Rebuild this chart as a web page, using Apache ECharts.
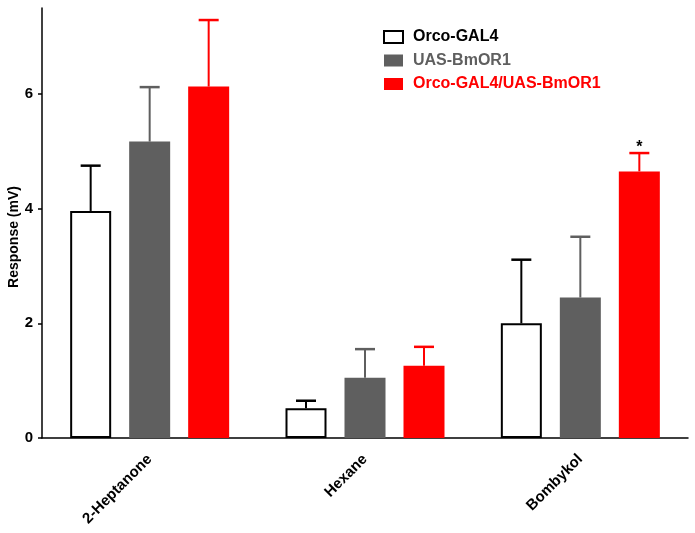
<!DOCTYPE html>
<html>
<head>
<meta charset="utf-8">
<script src="https://cdn.jsdelivr.net/npm/echarts@6/dist/echarts.min.js"></script>
<style>html,body{margin:0;padding:0;background:#fff}#c{width:695px;height:533px}</style>
</head>
<body>
<div id="c"></div>
<script>
const categories = ['2-Heptanone', 'Hexane', 'Bombykol'];
const seriesNames = ['Orco-GAL4', 'UAS-BmOR1', 'Orco-GAL4/UAS-BmOR1'];
const orcoMean = [3.96, 0.52, 2.00];
const orcoErr = [0.79, 0.13, 1.11];
const uasMean = [5.17, 1.05, 2.45];
const uasErr = [0.95, 0.50, 1.06];
const crossMean = [6.13, 1.26, 4.65];
const crossErr = [1.16, 0.33, 0.32];
const crossSig = ['', '', '*'];
const yTicks = [0, 2, 4, 6];

const FONT = '"Liberation Sans", Arial, sans-serif';
const BAR_W = 41, GAP = 18;
const colors = ['#000000', '#5f5f5f', '#ff0000'];
const means = [orcoMean, uasMean, crossMean];
const errs = [orcoErr, uasErr, crossErr];
const sigs = [['', '', ''], ['', '', ''], crossSig];

const chart = echarts.init(document.getElementById('c'), null, {renderer: 'canvas'});

function errSeries(i) {
  const data = categories.map((c, k) => [k, means[i][k], errs[i][k], sigs[i][k]]);
  return {
    type: 'custom',
    silent: true,
    z: 5,
    data: data,
    encode: {x: 0, y: 1},
    renderItem: function (params, api) {
      const k = api.value(0);
      const m = api.value(1), e = api.value(2);
      const s = data[params.dataIndex][3];
      const base = api.coord([k, m]);
      const top = api.coord([k, m + e]);
      const x = base[0] + (i - 1) * (BAR_W + GAP);
      const children = [
        {type: 'line', shape: {x1: x, y1: base[1], x2: x, y2: top[1]}, style: {stroke: colors[i], lineWidth: 2}},
        {type: 'line', shape: {x1: x - 10, y1: top[1], x2: x + 10, y2: top[1]}, style: {stroke: colors[i], lineWidth: 2.5}}
      ];
      if (s) {
        children.push({type: 'text', style: {text: s, x: x, y: top[1] + 3, align: 'center', verticalAlign: 'bottom', font: 'bold 16px ' + FONT, fill: '#000'}});
      }
      return {type: 'group', children: children};
    }
  };
}

const barSeries = [0, 1, 2].map(i => ({
  name: seriesNames[i],
  type: 'bar',
  barWidth: BAR_W,
  barGap: (GAP / BAR_W * 100) + '%',
  data: means[i],
  z: 3,
  itemStyle: i === 0 ? {color: '#ffffff', borderColor: '#000000', borderWidth: 2} : {color: colors[i]}
}));

chart.setOption({
  animation: false,
  backgroundColor: '#ffffff',
  grid: {left: 42, right: 7, top: 8, bottom: 95, containLabel: false, outerBoundsMode: 'none'},
  legend: {
    orient: 'vertical',
    left: 383,
    top: 29,
    padding: 0,
    itemWidth: 19,
    itemHeight: 12,
    itemGap: 7.5,
    icon: 'rect',
    textStyle: {fontFamily: FONT, fontWeight: 'bold', fontSize: 16, padding: [0, 0, 0, 5]},
    data: seriesNames.map((n, i) => ({name: n, textStyle: {color: colors[i]}}))
  },
  xAxis: {
    type: 'category',
    data: categories,
    axisLine: {lineStyle: {color: '#000', width: 1.5}},
    axisTick: {alignWithLabel: true, length: 5, lineStyle: {color: '#000', width: 1.5}},
    axisLabel: {rotate: 45, margin: 19, color: '#000', fontFamily: FONT, fontWeight: 'bold', fontSize: 15}
  },
  yAxis: {
    type: 'value',
    min: 0,
    max: 7.5,
    interval: 2,
    name: 'Response (mV)',
    nameLocation: 'middle',
    nameGap: 21,
    nameMoveOverlap: false,
    nameTextStyle: {color: '#000', fontFamily: FONT, fontWeight: 'bold', fontSize: 14, padding: [0, 0, 0, -28]},
    splitLine: {show: false},
    axisLine: {show: true, lineStyle: {color: '#000', width: 1.5}},
    axisTick: {show: true, length: 4, customValues: yTicks, lineStyle: {color: '#000', width: 1.5}},
    axisLabel: {customValues: yTicks, margin: 9, color: '#000', fontFamily: FONT, fontWeight: 'bold', fontSize: 15}
  },
  series: barSeries.concat([errSeries(0), errSeries(1), errSeries(2)])
});
</script>
</body>
</html>
